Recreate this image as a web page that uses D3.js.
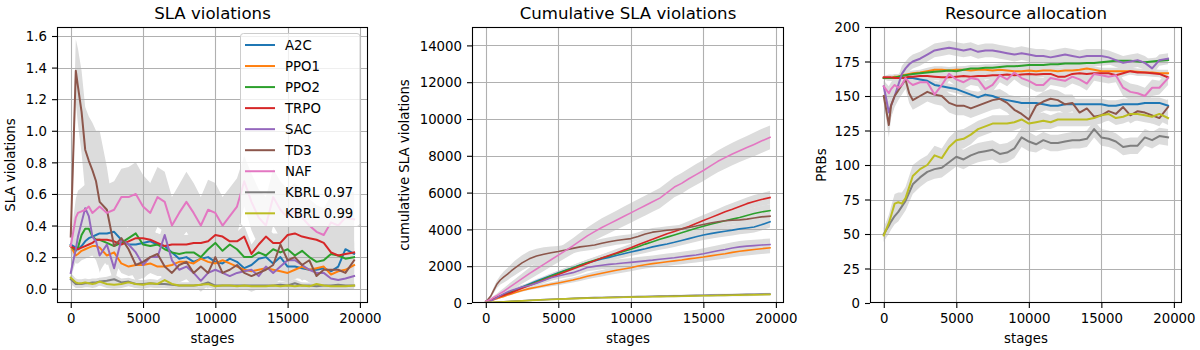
<!DOCTYPE html>
<html><head><meta charset="utf-8">
<script src="https://cdn.jsdelivr.net/npm/d3@7"></script>
<style>body{margin:0;background:#fff}svg{display:block}text{font-family:"DejaVu Sans",sans-serif;fill:#000}</style>
</head><body><svg id="c" width="1200" height="350"></svg>
<script>
// ---------- data ----------
const stages = [0,350,500,750,1000,1250,1500,1750,2000,2500,
  3000,3500,4000,4500,5000,5500,6000,6500,7000,7500,
  8000,8500,9000,9500,10000,10500,11000,11500,12000,12500,
  13000,13500,14000,14500,15000,15500,16000,16500,17000,17500,
  18000,18500,19000,19600];
const names = ["A2C","PPO1","PPO2","TRPO","SAC","TD3","NAF","KBRL 0.97","KBRL 0.99"];
const colors = ["#1f77b4","#ff7f0e","#2ca02c","#d62728","#9467bd","#8c564b","#e377c2","#7f7f7f","#bcbd22"];
const xTicks = [0,5000,10000,15000,20000];

// Panel 1: SLA violations
const slaA2C = [0.28,0.26,0.25,0.27,0.30,0.32,0.33,0.34,0.35,0.35,
  0.36,0.31,0.28,0.28,0.29,0.30,0.28,0.27,0.23,0.19,
  0.20,0.17,0.19,0.20,0.17,0.16,0.19,0.17,0.13,0.15,
  0.19,0.20,0.16,0.20,0.14,0.14,0.13,0.12,0.12,0.13,
  0.11,0.14,0.25,0.22];
const slaPPO1 = [0.27,0.21,0.22,0.24,0.25,0.26,0.27,0.27,0.26,0.21,
  0.23,0.16,0.14,0.15,0.15,0.16,0.14,0.14,0.15,0.17,
  0.17,0.16,0.19,0.17,0.16,0.18,0.16,0.14,0.12,0.11,
  0.12,0.13,0.12,0.11,0.10,0.12,0.14,0.12,0.13,0.14,
  0.09,0.11,0.12,0.15];
const slaPPO2 = [0.27,0.24,0.26,0.34,0.38,0.38,0.33,0.31,0.31,0.29,
  0.27,0.29,0.32,0.35,0.28,0.27,0.28,0.25,0.23,0.22,
  0.23,0.23,0.20,0.25,0.29,0.24,0.28,0.25,0.20,0.20,
  0.23,0.21,0.25,0.23,0.25,0.21,0.24,0.20,0.17,0.18,
  0.22,0.21,0.19,0.20];
const slaTRPO = [0.27,0.25,0.25,0.26,0.27,0.28,0.29,0.31,0.31,0.31,
  0.30,0.28,0.30,0.32,0.32,0.31,0.29,0.27,0.28,0.28,
  0.28,0.29,0.29,0.30,0.34,0.33,0.30,0.30,0.33,0.22,
  0.28,0.33,0.29,0.29,0.34,0.35,0.33,0.32,0.31,0.29,
  0.23,0.21,0.22,0.23];
const slaSAC = [0.10,0.25,0.33,0.42,0.51,0.46,0.33,0.30,0.21,0.28,
  0.13,0.31,0.28,0.23,0.15,0.20,0.20,0.34,0.18,0.12,
  0.14,0.10,0.05,0.10,0.12,0.10,0.08,0.10,0.11,0.12,
  0.08,0.14,0.10,0.14,0.18,0.18,0.15,0.12,0.10,0.10,
  0.065,0.055,0.065,0.08];
const slaTD3 = [0.33,1.38,1.28,1.12,0.88,0.81,0.75,0.68,0.55,0.50,
  0.27,0.32,0.25,0.15,0.17,0.20,0.22,0.14,0.10,0.15,
  0.17,0.10,0.14,0.10,0.20,0.10,0.12,0.15,0.10,0.08,
  0.10,0.12,0.15,0.28,0.18,0.20,0.15,0.18,0.08,0.12,
  0.12,0.12,0.10,0.18];
const slaNAF = [0.27,0.45,0.48,0.49,0.50,0.52,0.48,0.50,0.52,0.48,
  0.50,0.58,0.58,0.60,0.52,0.48,0.58,0.55,0.40,0.48,
  0.55,0.48,0.40,0.50,0.48,0.40,0.46,0.52,0.68,0.55,
  0.45,0.40,0.58,0.50,0.45,0.50,0.45,0.40,0.36,0.34,
  0.42,0.40,0.45,0.44];
const slaKBRL97 = [0.06,0.03,0.03,0.03,0.035,0.035,0.04,0.04,0.045,0.05,
  0.06,0.04,0.045,0.03,0.03,0.035,0.03,0.03,0.025,0.02,
  0.02,0.02,0.025,0.04,0.02,0.02,0.02,0.02,0.02,0.02,
  0.02,0.02,0.02,0.025,0.02,0.035,0.02,0.02,0.015,0.02,
  0.02,0.025,0.02,0.02];
const slaKBRL99 = [0.07,0.04,0.035,0.035,0.04,0.035,0.03,0.035,0.045,0.03,
  0.025,0.03,0.04,0.03,0.025,0.035,0.03,0.055,0.03,0.02,
  0.02,0.02,0.025,0.03,0.015,0.02,0.02,0.015,0.02,0.015,
  0.015,0.015,0.02,0.015,0.02,0.015,0.02,0.015,0.03,0.02,
  0.015,0.015,0.015,0.02];
// spreads (std) panel 1
const sd1A2C = [0.03,0.06,0.07,0.08,0.08,0.08,0.08,0.08,0.08,0.08,
  0.08,0.08,0.07,0.07,0.07,0.07,0.07,0.07,0.07,0.07,
  0.07,0.07,0.07,0.07,0.07,0.07,0.07,0.07,0.07,0.07,
  0.07,0.07,0.07,0.07,0.07,0.07,0.07,0.07,0.07,0.07,
  0.07,0.07,0.08,0.08];
const sd1PPO1 = [0.03,0.05,0.06,0.06,0.06,0.06,0.06,0.06,0.06,0.06,
  0.06,0.06,0.06,0.06,0.06,0.06,0.06,0.06,0.06,0.06,
  0.06,0.06,0.06,0.06,0.06,0.06,0.06,0.06,0.06,0.06,
  0.06,0.06,0.06,0.06,0.06,0.06,0.06,0.06,0.06,0.06,
  0.06,0.06,0.06,0.06];
const sd1PPO2 = [0.03,0.05,0.06,0.07,0.08,0.08,0.07,0.07,0.07,0.07,
  0.07,0.07,0.07,0.07,0.07,0.07,0.07,0.07,0.07,0.07,
  0.07,0.07,0.07,0.07,0.07,0.07,0.07,0.07,0.07,0.07,
  0.07,0.07,0.07,0.07,0.07,0.07,0.07,0.07,0.07,0.07,
  0.07,0.07,0.07,0.07];
const sd1TRPO = [0.03,0.05,0.06,0.06,0.06,0.06,0.06,0.06,0.06,0.06,
  0.06,0.06,0.06,0.06,0.06,0.06,0.06,0.06,0.06,0.06,
  0.06,0.06,0.06,0.06,0.07,0.07,0.06,0.06,0.07,0.06,
  0.06,0.06,0.06,0.06,0.07,0.07,0.07,0.06,0.06,0.06,
  0.06,0.06,0.06,0.06];
const sd1SAC = [0.03,0.08,0.12,0.14,0.15,0.14,0.12,0.12,0.10,0.10,
  0.10,0.10,0.10,0.09,0.09,0.09,0.09,0.10,0.09,0.08,
  0.08,0.08,0.07,0.08,0.08,0.08,0.08,0.08,0.08,0.08,
  0.08,0.08,0.08,0.08,0.08,0.08,0.08,0.08,0.07,0.07,
  0.06,0.06,0.06,0.06];
const sd1TD3 = [0.05,0.20,0.24,0.26,0.27,0.28,0.30,0.32,0.45,0.27,
  0.20,0.15,0.12,0.10,0.10,0.10,0.10,0.10,0.10,0.10,
  0.10,0.10,0.10,0.10,0.10,0.10,0.10,0.10,0.10,0.10,
  0.10,0.10,0.10,0.12,0.10,0.10,0.10,0.10,0.08,0.08,
  0.08,0.08,0.08,0.08];
const sd1NAF = [0.05,0.12,0.14,0.15,0.16,0.16,0.16,0.17,0.17,0.18,
  0.18,0.18,0.19,0.20,0.20,0.19,0.19,0.19,0.18,0.18,
  0.19,0.19,0.18,0.19,0.19,0.18,0.18,0.18,0.16,0.18,
  0.18,0.18,0.18,0.18,0.18,0.17,0.17,0.17,0.17,0.17,
  0.17,0.17,0.17,0.17];
const sd1KBRL97 = [0.03,0.025,0.025,0.025,0.025,0.025,0.025,0.025,0.025,0.025,
  0.03,0.025,0.025,0.025,0.025,0.025,0.025,0.025,0.025,0.02,
  0.02,0.02,0.02,0.025,0.02,0.02,0.02,0.02,0.02,0.02,
  0.02,0.02,0.02,0.02,0.02,0.025,0.02,0.02,0.02,0.02,
  0.02,0.02,0.02,0.02];
const sd1KBRL99 = [0.03,0.025,0.025,0.025,0.025,0.025,0.025,0.025,0.025,0.025,
  0.025,0.025,0.025,0.025,0.025,0.025,0.025,0.03,0.025,0.02,
  0.02,0.02,0.02,0.02,0.02,0.02,0.02,0.02,0.02,0.02,
  0.02,0.02,0.02,0.02,0.02,0.02,0.02,0.02,0.025,0.02,
  0.02,0.02,0.02,0.02];

// Panel 2: cumulative SLA violations
const cumA2C = [80,170,220,300,380,460,540,620,700,870,
  1040,1200,1350,1500,1640,1780,1920,2060,2180,2290,
  2390,2480,2580,2680,2770,2860,2950,3050,3130,3210,
  3300,3400,3500,3600,3700,3770,3840,3900,3960,4030,
  4080,4130,4250,4420];
const cumPPO1 = [60,130,170,230,300,360,430,490,560,680,
  780,860,940,1020,1090,1170,1250,1340,1450,1540,
  1620,1700,1780,1850,1920,2010,2080,2140,2190,2240,
  2290,2340,2400,2450,2500,2560,2620,2680,2750,2810,
  2860,2910,2950,3000];
const cumPPO2 = [80,160,220,300,380,450,530,600,680,840,
  990,1140,1300,1470,1620,1760,1900,2050,2200,2320,
  2440,2560,2680,2800,2920,3060,3200,3330,3460,3580,
  3700,3820,3940,4060,4170,4280,4380,4470,4560,4650,
  4760,4860,4950,5020];
const cumTRPO = [80,160,210,290,350,420,490,560,640,800,
  950,1100,1250,1400,1550,1700,1850,2000,2150,2300,
  2440,2580,2720,2860,3000,3160,3320,3460,3620,3760,
  3880,4020,4160,4320,4480,4640,4800,4960,5100,5250,
  5400,5520,5620,5730];
const cumSAC = [40,110,170,280,400,510,600,680,740,870,
  950,1080,1220,1370,1470,1560,1650,1780,1930,1990,
  2050,2100,2130,2170,2210,2250,2290,2330,2380,2420,
  2460,2510,2560,2610,2680,2760,2840,2910,2990,3050,
  3090,3120,3150,3180];
const cumTD3 = [50,380,620,1000,1250,1420,1570,1740,1900,2180,
  2400,2550,2650,2730,2800,2880,2970,3050,3100,3150,
  3250,3330,3400,3450,3500,3620,3750,3850,3900,3950,
  3990,4030,4100,4180,4270,4350,4420,4470,4500,4520,
  4560,4620,4680,4720];
const cumNAF = [100,200,290,390,520,640,780,920,1050,1330,
  1600,1850,2100,2350,2600,2850,3100,3380,3650,3880,
  4100,4300,4500,4700,4900,5100,5300,5500,5700,6000,
  6300,6500,6750,6980,7200,7450,7700,7900,8100,8280,
  8450,8620,8800,9000];
const cumKBRL97 = [20,35,40,50,60,70,80,90,100,120,
  145,165,185,205,220,235,250,265,280,290,
  300,310,320,330,340,348,356,364,372,380,
  388,396,404,412,420,428,436,444,452,460,
  467,474,482,490];
const cumKBRL99 = [20,32,38,48,58,68,77,86,95,115,
  135,155,175,193,208,222,236,250,263,273,
  283,292,300,310,318,326,334,341,348,355,
  362,369,376,383,390,398,406,414,422,430,
  437,444,452,460];
const sd2A2C = [10,20,30,40,50,55,60,65,70,80,
  90,100,110,120,130,140,150,160,170,180,
  190,200,210,215,220,225,230,235,240,245,
  250,255,260,265,270,275,280,285,290,295,
  300,305,310,320];
const sd2PPO1 = [10,20,25,30,40,45,50,55,60,70,
  80,90,100,110,120,130,140,150,160,170,
  180,185,190,195,200,205,210,215,220,225,
  230,235,240,245,250,255,260,265,270,275,
  280,285,290,300];
const sd2PPO2 = [10,20,30,40,50,55,60,65,70,80,
  90,100,110,120,130,140,150,160,170,180,
  190,200,210,215,220,225,230,240,250,255,
  260,265,270,280,290,295,300,305,310,315,
  320,330,340,350];
const sd2TRPO = [10,20,30,40,50,55,60,65,70,80,
  90,100,110,120,130,140,150,160,170,180,
  190,200,210,215,220,230,240,250,255,260,
  270,280,290,295,300,305,310,320,330,335,
  340,345,350,360];
const sd2SAC = [10,30,40,60,70,80,90,100,110,120,
  130,140,150,160,170,180,190,200,210,215,
  220,225,230,235,240,245,250,255,260,265,
  270,275,280,285,290,295,300,305,310,315,
  320,320,320,320];
const sd2TD3 = [20,100,150,200,250,300,330,360,390,420,
  420,400,380,340,300,280,260,250,240,240,
  240,240,240,240,240,230,230,230,220,220,
  220,220,220,220,220,220,220,220,220,220,
  220,230,240,250];
const sd2NAF = [20,60,80,110,140,170,200,220,240,280,
  320,340,360,370,380,400,420,440,460,480,
  500,510,520,530,540,540,540,540,550,550,
  550,560,560,570,570,580,590,600,610,620,
  630,640,650,650];
const sd2KBRL97 = [10,15,20,20,25,25,25,30,30,30,
  35,35,35,40,40,40,40,45,45,45,
  45,45,50,50,50,50,50,50,55,55,
  55,55,55,55,60,60,60,60,60,60,
  65,65,65,65];
const sd2KBRL99 = [10,15,20,20,25,25,25,30,30,30,
  35,35,35,40,40,40,40,45,45,45,
  45,45,50,50,50,50,50,50,55,55,
  55,55,55,55,60,60,60,60,60,60,
  65,65,65,65];

// Panel 3: Resource allocation (PRBs)
const prbA2C = [163,163,163,163,163,163,163,163,163,162,
  161,158,157,156,155,153,151,149,151,150,
  148,147,146,145,145,145,144,143,143,144,
  144,144,144,144,144,143,143,144,144,144,
  145,145,145,143];
const prbPPO1 = [163,163,163,164,164,165,165.5,166,166.5,167,
  168,169,169,168.5,169,169,168.5,169,169,168.5,
  169,168.5,168,168,168.5,168,168.5,168.5,168,168.5,
  168.5,169,170,169,168,168,168,168,168,167.5,
  167,167,166.5,166.5];
const prbPPO2 = [163,163,163,163.5,164,164.5,165,165.5,166,166.5,
  167,167.5,168,168.5,168,169,170,170,170.5,170.5,
  171,171.5,171.5,172,172.5,172.5,172.5,173,173,173.5,
  173.5,173.5,174,174,174.5,175,175.5,175.5,175.5,175,
  174.5,175,175.5,176];
const prbTRPO = [163.5,163.5,163.5,163,163,163,163.5,164,164,164.5,
  164.5,164,163.5,163.5,164,164.5,164,164.5,164.5,165,
  165,165.5,165,165.5,166,165.5,166,166,164,164,
  166,166.5,166,166.5,166.5,166.5,165,166.5,168,167,
  167,166.5,166,163.5];
const prbSAC = [157,138,143,150,158,166,170,173,175,177,
  180,183,184,185,184,183,184,182,183,183,
  182,181,180,181,180,179,179,178,179,180,
  179,178,179,179,179,178,176,174,175,176,
  174,170,176,177];
const prbTD3 = [150,129,143,150,154,158,162,152,147,150,
  153,151,150,145,143,143,141,143,145,147,
  148,145,140,137,133,143,146,148,147,144,
  145,138,141,135,136,139,137,142,136,139,
  138,136,134,142];
const prbNAF = [157,152,155,158,156,158,163,160,158,160,
  160,151,158,166,162,160,163,162,155,158,
  165,162,167,163,161,158,158,163,162,161,
  164,162,159,166,165,164,165,156,153,152,
  150,156,156,163];
const prbKBRL97 = [50,56,59,63,66,70,74,80,86,91,
  95,97,98,102,106,104,107,109,110,111,
  108,109,112,120,117,115,118,116,116,117,
  118,118,119,126,120,119,117,113,114,114,
  120,118,121,120];
const prbKBRL99 = [49,58,63,72,73,72,76,84,92,97,
  100,107,105,113,118,119,122,126,128,130,
  130,130,131,133,130,131,132,131,133,133,
  133,133,133,134,136,137,134,135,137,137,
  136,135,137,134];
const sd3A2C = [1,2,2,2,2,2,2,2,2,3,
  3,3,3,3,3,3,3,4,4,4,
  4,4,4,4,4,4,4,4,4,4,
  4,4,4,4,4,4,4,4,4,4,
  4,4,4,4];
const sd3PPO1 = [1,2,2,2,2,2,2,2,2,2,
  2.5,2.5,2.5,2.5,2.5,2.5,2.5,2.5,2.5,2.5,
  2.5,2.5,2.5,2.5,2.5,2.5,2.5,2.5,2.5,2.5,
  2.5,2.5,2.5,2.5,2.5,2.5,2.5,2.5,2.5,2.5,
  2.5,2.5,2.5,2.5];
const sd3PPO2 = [1,2,2,2,2,2,2,2,2,2,
  2.5,2.5,2.5,2.5,2.5,2.5,2.5,2.5,2.5,2.5,
  2.5,2.5,2.5,2.5,2.5,2.5,2.5,2.5,2.5,2.5,
  2.5,2.5,2.5,2.5,2.5,2.5,2.5,2.5,2.5,2.5,
  2.5,2.5,2.5,2.5];
const sd3TRPO = [1,2,2,2,2,2,2,2,2,2,
  2.5,2.5,2.5,2.5,2.5,2.5,2.5,2.5,2.5,2.5,
  2.5,2.5,2.5,2.5,2.5,2.5,2.5,2.5,3,3,
  2.5,2.5,2.5,2.5,2.5,2.5,3,2.5,2.5,2.5,
  2.5,2.5,2.5,3];
const sd3SAC = [4,8,8,7,6,6,5,5,5,5,
  5,5,5,5,5,5,5,5,5,5,
  5,5,5,5,5,5,5,5,5,5,
  5,5,5,5,5,5,5,5,5,5,
  5,5,4,4];
const sd3TD3 = [5,9,9,8,7,7,7,7,7,7,
  7,7,7,7,7,7,7,7,7,7,
  7,7,7,7,7,7,7,7,7,7,
  6,6,6,6,6,6,6,6,6,6,
  6,6,6,6];
const sd3NAF = [4,5,5,5,5,5,5,5,5,5,
  5,6,5,5,5,5,5,5,6,5,
  5,5,5,5,5,5,5,5,5,5,
  5,5,5,5,5,5,5,6,6,6,
  6,6,5,5];
const sd3KBRL97 = [5,6,6,6,7,7,7,7,7,7,
  7,7,7,7,7,7,7,7,7,7,
  7,7,7,7,7,6,6,6,6,6,
  6,6,6,6,6,6,6,6,6,6,
  6,6,6,6];
const sd3KBRL99 = [5,6,7,7,7,8,8,8,8,7,
  7,7,7,7,7,7,7,6,6,6,
  6,6,6,6,6,6,6,5,5,5,
  5,5,5,5,5,5,5,5,5,5,
  5,5,5,5];

// ---------- layout ----------
const W = 1200, H = 350, TOP = 27, BOTTOM = 303;
const xDomain = [-950, 20560];
const FS = 13.3;
const svg = d3.select("#c");

const panels = [
  { title:"SLA violations", ylabel:"SLA violations", left:57, right:368, ylx:15,
    ydom:[-0.0905,1.657], yticks:[0,0.2,0.4,0.6,0.8,1.0,1.2,1.4,1.6], fmt:d3.format(".1f"), lw:2,
    series:[slaA2C,slaPPO1,slaPPO2,slaTRPO,slaSAC,slaTD3,slaNAF,slaKBRL97,slaKBRL99],
    sd:[sd1A2C,sd1PPO1,sd1PPO2,sd1TRPO,sd1SAC,sd1TD3,sd1NAF,sd1KBRL97,sd1KBRL99], legend:true },
  { title:"Cumulative SLA violations", ylabel:"cumulative SLA violations", left:472, right:784, ylx:408.5,
    ydom:[0,15000], yticks:[0,2000,4000,6000,8000,10000,12000,14000], fmt:d3.format("d"), lw:1.6,
    series:[cumA2C,cumPPO1,cumPPO2,cumTRPO,cumSAC,cumTD3,cumNAF,cumKBRL97,cumKBRL99],
    sd:[sd2A2C,sd2PPO1,sd2PPO2,sd2TRPO,sd2SAC,sd2TD3,sd2NAF,sd2KBRL97,sd2KBRL99] },
  { title:"Resource allocation", ylabel:"PRBs", left:870, right:1182, ylx:825.5,
    ydom:[0,200], yticks:[0,25,50,75,100,125,150,175,200], fmt:d3.format("d"), lw:2,
    series:[prbA2C,prbPPO1,prbPPO2,prbTRPO,prbSAC,prbTD3,prbNAF,prbKBRL97,prbKBRL99],
    sd:[sd3A2C,sd3PPO1,sd3PPO2,sd3TRPO,sd3SAC,sd3TD3,sd3NAF,sd3KBRL97,sd3KBRL99] }
];

panels.forEach((p, pi) => {
  const x = d3.scaleLinear().domain(xDomain).range([p.left, p.right]);
  const y = d3.scaleLinear().domain(p.ydom).range([BOTTOM, TOP]);
  const g = svg.append("g");
  const cid = "clip" + pi;
  g.append("clipPath").attr("id", cid).append("rect")
    .attr("x", p.left).attr("y", TOP).attr("width", p.right - p.left).attr("height", BOTTOM - TOP);
  const plot = g.append("g").attr("clip-path", `url(#${cid})`);

  // bands
  const area = d3.area().x(d => x(d[0])).y0(d => y(d[1] - d[2])).y1(d => y(d[1] + d[2]));
  p.series.forEach((s, k) => {
    const sd = p.sd[k];
    plot.append("path").datum(stages.map((st, i) => [st, s[i], sd[i]]))
      .attr("d", area).attr("fill", "#dcdcdc").attr("stroke", "none");
  });
  // grid
  plot.selectAll(".gx").data(xTicks).enter().append("line")
    .attr("x1", d => Math.round(x(d)) + 0.5).attr("x2", d => Math.round(x(d)) + 0.5)
    .attr("y1", TOP).attr("y2", BOTTOM).attr("stroke", "#b0b0b0").attr("stroke-width", 1.1);
  plot.selectAll(".gy").data(p.yticks).enter().append("line")
    .attr("y1", d => Math.round(y(d)) + 0.5).attr("y2", d => Math.round(y(d)) + 0.5)
    .attr("x1", p.left).attr("x2", p.right).attr("stroke", "#b0b0b0").attr("stroke-width", 1.1);
  // lines
  const line = d3.line().x(d => x(d[0])).y(d => y(d[1]));
  p.series.forEach((s, k) => {
    plot.append("path").datum(stages.map((st, i) => [st, s[i]]))
      .attr("d", line).attr("fill", "none").attr("stroke", colors[k])
      .attr("stroke-width", p.lw).attr("stroke-linejoin", "round").attr("stroke-linecap", "square");
  });

  // axes
  const ax = g.append("g").attr("transform", `translate(0,${BOTTOM})`)
    .call(d3.axisBottom(x).tickValues(xTicks).tickFormat(d3.format("d")).tickSize(5).tickSizeOuter(0).tickPadding(5.6));
  const ay = g.append("g").attr("transform", `translate(${p.left},0)`)
    .call(d3.axisLeft(y).tickValues(p.yticks).tickFormat(p.fmt).tickSize(5).tickSizeOuter(0).tickPadding(5));
  [ax, ay].forEach(a => {
    a.select(".domain").remove();
    a.selectAll("line").attr("stroke", "#000").attr("stroke-width", 1.1);
    a.selectAll("text").attr("font-family", '"DejaVu Sans", sans-serif').attr("font-size", FS).attr("fill", "#000");
  });
  ay.selectAll("text").attr("dy", "0.36em");

  // spine
  g.append("rect").attr("x", p.left + 0.5).attr("y", TOP + 0.5)
    .attr("width", p.right - p.left - 1).attr("height", BOTTOM - TOP - 1)
    .attr("fill", "none").attr("stroke", "#000").attr("stroke-width", 1.1);

  // labels
  const cx = (p.left + p.right) / 2;
  g.append("text").attr("x", cx).attr("y", 19).attr("text-anchor", "middle")
    .attr("font-size", 16.6).text(p.title);
  g.append("text").attr("x", cx).attr("y", 342.7).attr("text-anchor", "middle")
    .attr("font-size", FS).text("stages");
  g.append("text").attr("transform", `translate(${p.ylx},${(TOP + BOTTOM) / 2}) rotate(-90)`)
    .attr("text-anchor", "middle").attr("font-size", FS).text(p.ylabel);

  if (p.legend) {
    const lg = g.append("g");
    lg.append("rect").attr("x", 240.5).attr("y", 33.5).attr("width", 119.5).attr("height", 193)
      .attr("rx", 3).attr("fill", "#fff").attr("fill-opacity", 0.8)
      .attr("stroke", "#cccccc").attr("stroke-width", 1);
    names.forEach((n, k) => {
      const cy = 45 + k * 21.04;
      lg.append("line").attr("x1", 245).attr("x2", 275).attr("y1", cy).attr("y2", cy)
        .attr("stroke", colors[k]).attr("stroke-width", 2);
      lg.append("text").attr("x", 285).attr("y", cy + 4.85).attr("font-size", FS).text(n);
    });
  }
});
</script></body></html>
